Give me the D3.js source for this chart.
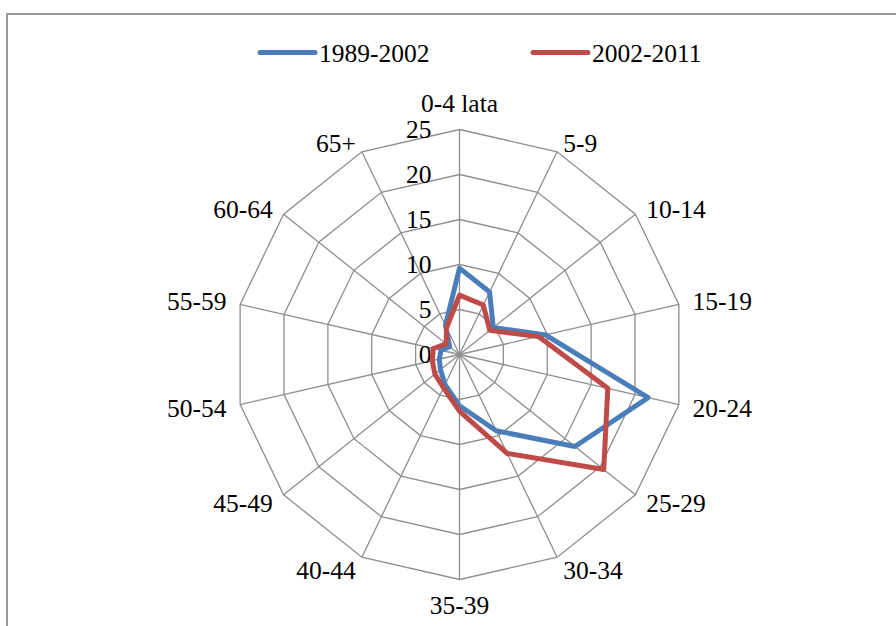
<!DOCTYPE html>
<html lang="pl">
  <head>
    <meta charset="UTF-8" />
    <title>Radar - grupy wieku</title>
    <style>
      body {
        margin: 0;
        background: #fff;
      }
      svg {
        display: block;
        font-family: "Liberation Serif", "Times New Roman", serif;
      }
    </style>
  </head>
  <body>
    <svg id="chart"></svg>
    <script src="https://d3js.org/d3.v7.min.js"></script>
    <script>
      const categories = ["0-4 lata", "5-9", "10-14", "15-19", "20-24", "25-29", "30-34",
        "35-39", "40-44", "45-49", "50-54", "55-59", "60-64", "65+"];
      const series1989 = [9.6, 7.7, 4.8, 9.8, 21.5, 16.4, 9.4, 5.7, 3.7, 2.7, 2.3, 2.1, 1.4, 3.6];
      const series2002 = [6.6, 6.1, 4.3, 9.0, 16.9, 20.5, 12.2, 6.3, 4.1, 3.5, 3.1, 3.0, 1.9, 3.3];
      const seriesNames = ["1989-2002", "2002-2011"];
      const ticks = [0, 5, 10, 15, 20, 25];

      const width = 896;
      const height = 626;
      const cx = 459.5;
      const cy = 354.5;
      const R = 225;
      const fontSize = 25.5;

      const svg = d3.select("#chart").attr("width", width).attr("height", height);

      // frame (only top and left edges visible)
      svg.append("path")
        .attr("d", `M7,${height} L7,14 L${width},14`)
        .attr("fill", "none")
        .attr("stroke", "#999")
        .attr("stroke-width", 2);

      const r = d3.scaleLinear().domain([0, 25]).range([0, R]);
      const angle = d3.scaleLinear().domain([0, categories.length]).range([0, 2 * Math.PI]);
      const pt = (i, v) => [cx + r(v) * Math.sin(angle(i)), cy - r(v) * Math.cos(angle(i))];

      const grid = svg.append("g").attr("stroke", "#8e8e8e").attr("stroke-width", 1.3).attr("fill", "none");

      ticks.slice(1).forEach((t) => {
        grid.append("path")
          .attr("d", d3.line()(categories.map((c, i) => pt(i, t))) + "Z");
      });

      categories.forEach((c, i) => {
        const [x, y] = pt(i, 25);
        grid.append("line").attr("x1", cx).attr("y1", cy).attr("x2", x).attr("y2", y);
      });

      // value axis labels
      svg.append("g")
        .selectAll("text")
        .data(ticks)
        .join("text")
        .attr("x", cx - 28)
        .attr("y", (d) => cy - r(d))
        .attr("dy", "0.35em")
        .attr("text-anchor", "end")
        .attr("font-size", fontSize)
        .attr("fill", "#000")
        .text((d) => d);

      // category labels
      svg.append("g")
        .selectAll("text")
        .data(categories)
        .join("text")
        .each(function (d, i) {
          const a = angle(i);
          const s = Math.sin(a);
          const c = Math.cos(a);
          const rr = R + 14;
          let x = cx + rr * s;
          let y = cy - rr * c;
          let anchor = "middle";
          if (s > 0.1) anchor = "start";
          else if (s < -0.1) anchor = "end";
          if (anchor === "middle") y += c > 0 ? -12 : 12;
          else if (c > 0.3) y += 4;
          d3.select(this)
            .attr("x", x)
            .attr("y", y)
            .attr("dy", "0.35em")
            .attr("text-anchor", anchor);
        })
        .attr("font-size", fontSize)
        .attr("fill", "#000")
        .text((d) => d);

      const colors = ["#4a7ebb", "#be4b48"];
      const data = [series1989, series2002];

      const line = d3.line().curve(d3.curveLinearClosed);
      data.forEach((vals, k) => {
        svg.append("path")
          .attr("d", line(vals.map((v, i) => pt(i, v))))
          .attr("fill", "none")
          .attr("stroke", colors[k])
          .attr("stroke-width", 5)
          .attr("stroke-linejoin", "round");
      });

      // legend
      const legendX = [260, 533];
      const legend = svg.append("g");
      seriesNames.forEach((name, k) => {
        legend.append("line")
          .attr("x1", legendX[k])
          .attr("x2", legendX[k] + 55)
          .attr("y1", 52.5)
          .attr("y2", 52.5)
          .attr("stroke", colors[k])
          .attr("stroke-width", 5)
          .attr("stroke-linecap", "round");
        legend.append("text")
          .attr("x", legendX[k] + 59)
          .attr("y", 61.5)
          .attr("font-size", fontSize)
          .attr("fill", "#000")
          .text(name);
      });
    </script>
  </body>
</html>
